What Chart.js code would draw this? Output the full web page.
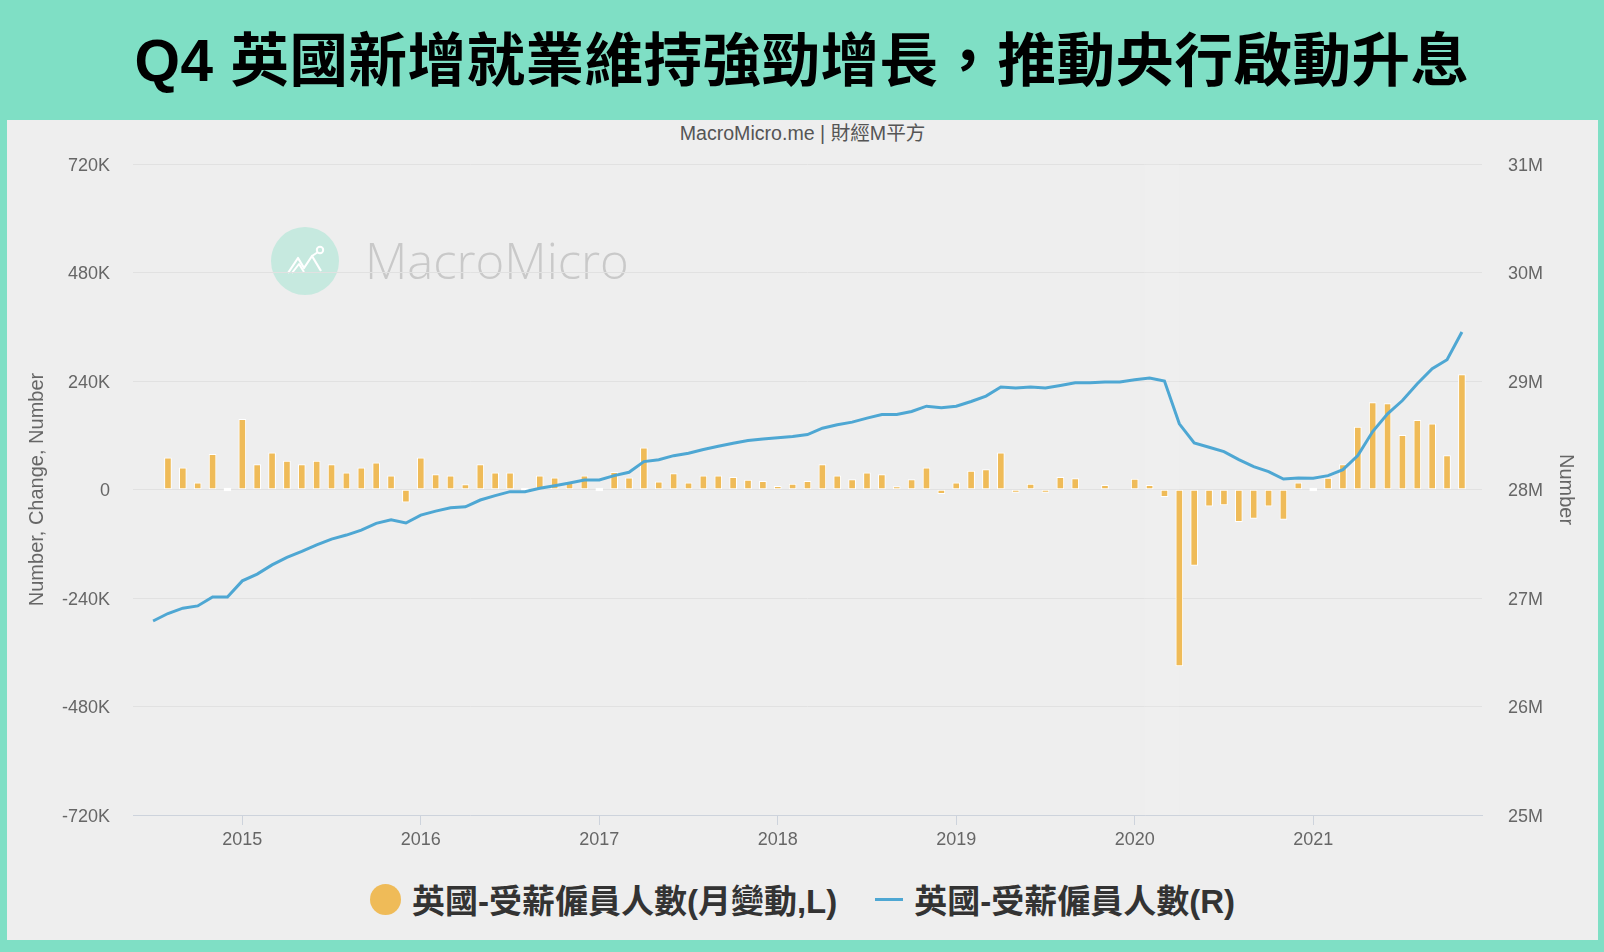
<!DOCTYPE html>
<html>
<head>
<meta charset="utf-8">
<title>英國受薪僱員人數</title>
<script src="https://cdn.jsdelivr.net/npm/chart.js@4.4.1/dist/chart.umd.min.js"></script>
<style>
  html, body { margin: 0; padding: 0; }
  body {
    width: 1604px; height: 952px; overflow: hidden; position: relative;
    background: #7fdfc5;
    font-family: "Liberation Sans", Arial, sans-serif;
  }
  #headline {
    position: absolute; left: 0; top: 0; width: 1604px; height: 110px;
    display: flex; align-items: center; justify-content: center;
    font-family: "Liberation Sans", "Noto Sans CJK TC", sans-serif;
    font-weight: 700; font-size: 58.5px; color: #000; letter-spacing: 0.5px;
  }
  #panel {
    position: absolute; left: 7px; top: 120px; width: 1591px; height: 820px;
    background: #eeeeee;
  }
  #credit {
    position: absolute; left: 0; top: 1px; width: 1591px; text-align: center;
    font-size: 19.6px; color: #555; line-height: 24px;
    font-family: "Liberation Sans", "Noto Sans CJK TC", sans-serif;
  }
  #mark { position: absolute; left: 264px; top: 107px; width: 68px; height: 68px; }
  #markText {
    position: absolute; left: 358px; top: 107px; font-family: "Open Sans", "Lato", sans-serif;
    font-weight: 300; font-size: 49px; color: #c9c9c9; line-height: 66px;
  }
  #chartBox { position: absolute; left: 0; top: 0; width: 1591px; height: 740px; }
  #legend {
    position: absolute; left: 0; top: 756px; width: 1591px; height: 46px;
    display: flex; align-items: center; justify-content: center;
    font-family: "Liberation Sans", "Noto Sans CJK TC", sans-serif;
    font-weight: 700; font-size: 33px; color: #333;
  }
  .item { display: flex; align-items: center; }
  .dot { width: 31px; height: 31px; border-radius: 50%; background: #efbb58; margin-right: 11px; }
  .dash { width: 28px; height: 3px; background: #4ea7d3; margin-right: 11px; }
  .gap { width: 38px; }
</style>
</head>
<body>
<div id="headline">Q4 英國新增就業維持強勁增長，推動央行啟動升息</div>
<div id="panel">
  <div id="credit">MacroMicro.me | 財經M平方</div>
  <svg id="mark" viewBox="0 0 68 68">
    <circle cx="34" cy="34" r="34" fill="#c6e9df"/>
    <polyline points="17,46 27,31 33,41 41,29 50,44" fill="none" stroke="#ffffff" stroke-width="2.2" stroke-linejoin="round"/>
    <polyline points="21,46 28,37 33,45" fill="none" stroke="#ffffff" stroke-width="2" stroke-linejoin="round"/>
    <circle cx="49" cy="23" r="3.2" fill="none" stroke="#ffffff" stroke-width="2"/>
    <line x1="41" y1="29" x2="47" y2="25" stroke="#ffffff" stroke-width="2"/>
  </svg>
  <div id="markText">MacroMicro</div>
  <div id="chartBox"><canvas id="chart" width="1591" height="740"></canvas></div>
  <div id="legend">
    <div class="item"><span class="dot"></span><span id="lgBar"></span></div>
    <div class="gap"></div>
    <div class="item"><span class="dash"></span><span id="lgLine"></span></div>
  </div>
</div>

<script>
// Series names
const barName = '英國-受薪僱員人數(月變動,L)';
const lineName = '英國-受薪僱員人數(R)';

// Paid employees, millions, monthly from 2014-07 to 2021-11
const lineStart = { year: 2014, month: 7 };
const employees = [
  26.788, 26.857, 26.906, 26.927, 27.010, 27.010,
  27.158, 27.220, 27.305, 27.374, 27.429, 27.490, 27.543, 27.580, 27.626, 27.688, 27.721, 27.691,
  27.764, 27.801, 27.832, 27.841, 27.903, 27.943, 27.980, 27.980, 28.011, 28.035, 28.060, 28.088,
  28.088, 28.128, 28.159, 28.257, 28.275, 28.312, 28.334, 28.368, 28.399, 28.427, 28.451, 28.466,
  28.476, 28.488, 28.506, 28.565, 28.596, 28.621, 28.658, 28.691, 28.691, 28.719, 28.768, 28.753,
  28.768, 28.811, 28.861, 28.944, 28.935, 28.944, 28.935, 28.959, 28.984, 28.984, 28.990, 28.990,
  29.011, 29.027, 28.999, 28.605, 28.429, 28.390, 28.349, 28.275, 28.211, 28.165, 28.097, 28.106,
  28.103, 28.128, 28.183, 28.312, 28.534, 28.697, 28.820, 28.974, 29.113, 29.196, 29.452
];

// Month-on-month change, thousands, monthly from 2014-08 to 2021-11
const barStart = { year: 2014, month: 8 };
const monthlyChange = [
  70, 48, 15, 78, 0,
  155, 55, 81, 63, 55, 63, 55, 37, 48, 59, 30, -28,
  70, 33, 30, 11, 55, 37, 37, 0, 30, 26, 17, 30,
  0, 38, 26, 92, 17, 35, 15, 30, 30, 27, 21, 18,
  7, 12, 18, 55, 30, 22, 37, 33, 3, 22, 48, -9,
  15, 41, 44, 81, -2, 12, -3, 27, 24, null, 9, null,
  23, 9, -16, -390, -168, -37, -34, -71, -64, -37, -66, 15,
  0, 25, 55, 138, 192, 190, 120, 153, 145, 75, 254
];

// Axis ticks
const yearTicks = [2015, 2016, 2017, 2018, 2019, 2020, 2021];
const leftTicks = [-720, -480, -240, 0, 240, 480, 720];   // K
const rightTicks = [25, 26, 27, 28, 29, 30, 31];           // M

const BASE_YEAR = 2014;
const monthIndex = (y, m) => (y - BASE_YEAR) * 12 + (m - 1);
const lineX0 = monthIndex(lineStart.year, lineStart.month);
const barX0 = monthIndex(barStart.year, barStart.month);

const lineData = employees.map((v, i) => ({ x: lineX0 + i, y: v }));
const barData = monthlyChange.map((v, i) => ({ x: barX0 + i, y: v }));

document.getElementById('lgBar').textContent = barName;
document.getElementById('lgLine').textContent = lineName;

const BAR_COLOR = '#efbb58';
const LINE_COLOR = '#4ea7d3';
const GRID = '#e1e1e1';
const TICK_FONT = { family: '"Liberation Sans", Arial, sans-serif', size: 18 };
const TITLE_FONT = { family: '"Liberation Sans", Arial, sans-serif', size: 20 };

// faint highlight column around March 2020
const highlightBand = {
  id: 'highlightBand',
  beforeDatasetsDraw(chart) {
    const { ctx, chartArea, scales } = chart;
    const x1 = scales.x.getPixelForValue(monthIndex(2020, 3) - 1.3);
    const x2 = scales.x.getPixelForValue(monthIndex(2020, 3) + 1.0);
    ctx.save();
    ctx.fillStyle = 'rgba(255,255,255,0.1)';
    ctx.fillRect(x1, chartArea.top, x2 - x1, chartArea.bottom - chartArea.top);
    ctx.restore();
  }
};

new Chart(document.getElementById('chart'), {
  data: {
    datasets: [
      {
        type: 'line',
        label: lineName,
        data: lineData,
        yAxisID: 'yR',
        borderColor: LINE_COLOR,
        borderWidth: 3,
        pointRadius: 0,
        tension: 0,
        order: 0
      },
      {
        type: 'bar',
        label: barName,
        data: barData,
        yAxisID: 'yL',
        backgroundColor: (c) => (c.parsed && c.parsed.y === 0 ? '#ffffff' : BAR_COLOR),
        borderColor: '#ffffff',
        borderWidth: 1,
        borderSkipped: false,
        barThickness: 7,
        minBarLength: 3,
        order: 1
      }
    ]
  },
  options: {
    responsive: false,
    devicePixelRatio: 1,
    animation: false,
    events: [],
    layout: { padding: { top: 44, left: 0, right: 0, bottom: 0 } },
    plugins: { legend: { display: false }, tooltip: { enabled: false } },
    scales: {
      x: {
        type: 'linear',
        offset: false,
        min: lineX0 - 1.35,
        max: monthIndex(2021, 11) + 1.35,
        afterFit: (s) => { s.height = 45; },
        afterBuildTicks: (s) => { s.ticks = yearTicks.map((y) => ({ value: monthIndex(y, 1) })); },
        ticks: {
          autoSkip: false, maxRotation: 0, padding: 4,
          color: '#666', font: TICK_FONT,
          callback: (v) => String(BASE_YEAR + Math.round(v / 12))
        },
        grid: { offset: false, drawOnChartArea: false, drawTicks: true, tickLength: 10, color: '#cdd3dc', lineWidth: 1 },
        border: { display: true, color: '#cdd3dc', width: 1 }
      },
      yL: {
        type: 'linear', position: 'left',
        min: leftTicks[0], max: leftTicks[leftTicks.length - 1],
        afterFit: (s) => { s.width = 126; },
        afterBuildTicks: (s) => { s.ticks = leftTicks.map((v) => ({ value: v })); },
        ticks: { padding: 23, labelOffset: 2, color: '#666', font: TICK_FONT, callback: (v) => (v === 0 ? '0' : v + 'K') },
        grid: { color: GRID, lineWidth: 1, drawTicks: false },
        border: { display: false },
        title: { display: true, text: 'Number, Change, Number', color: '#666', font: TITLE_FONT, padding: { top: 18, bottom: 0 } }
      },
      yR: {
        type: 'linear', position: 'right',
        min: rightTicks[0], max: rightTicks[rightTicks.length - 1],
        afterFit: (s) => { s.width = 116; },
        afterBuildTicks: (s) => { s.ticks = rightTicks.map((v) => ({ value: v })); },
        ticks: { padding: 26, labelOffset: 2, color: '#666', font: TICK_FONT, callback: (v) => v + 'M' },
        grid: { drawOnChartArea: false, drawTicks: false },
        border: { display: false },
        title: { display: true, text: 'Number', color: '#666', font: TITLE_FONT, padding: { top: 20, bottom: 0 } }
      }
    }
  },
  plugins: [highlightBand]
});
</script>
</body>
</html>
